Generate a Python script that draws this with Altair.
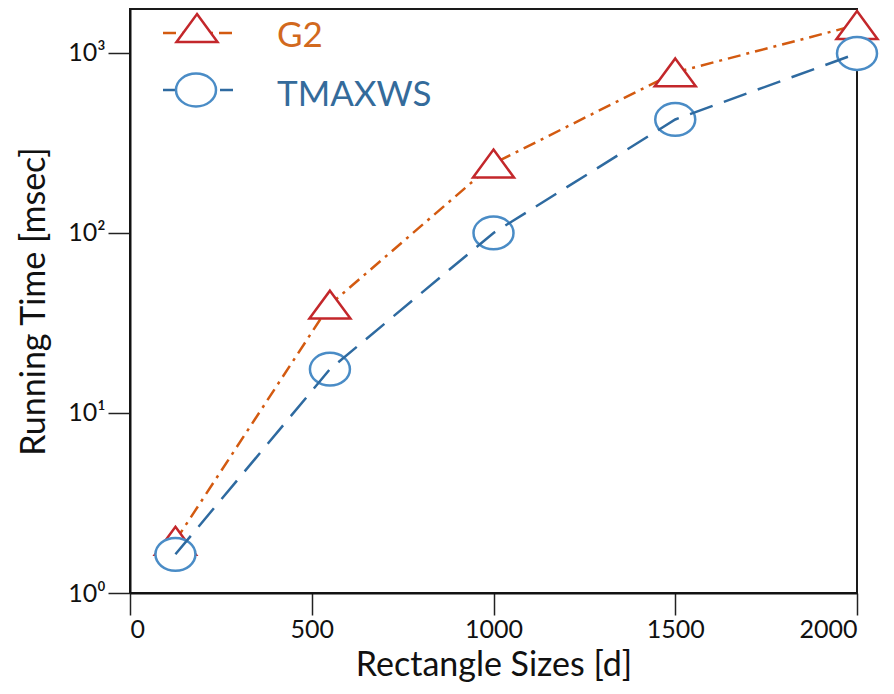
import altair as alt
import pandas as pd

# ---- data ----
sizes = [125, 550, 1000, 1500, 2000]
g2_ms = [1.95, 40, 243, 780, 1430]
tmaxws_ms = [1.64, 17.5, 100, 427, 993]
series_names = ["G2", "TMAXWS"]
x_ticks = [0, 500, 1000, 1500, 2000]
y_ticks = [1, 10, 100, 1000]

df = pd.DataFrame({
    "size": sizes * 2,
    "ms": g2_ms + tmaxws_ms,
    "series": [series_names[0]] * len(sizes) + [series_names[1]] * len(sizes),
})

FONT = "Lato"
G2_LINE = "#d35a10"
G2_MARK = "#c3272b"
G2_TEXT = "#d2691e"
TM_LINE = "#2e6aa0"
TM_MARK = "#4a8cc6"
TM_TEXT = "#346b9b"

TRI = "M0,-0.68L1,0.68L-1,0.68Z"
ELL = "M-1,0A1,0.82 0 1,0 1,0A1,0.82 0 1,0 -1,0Z"

x_enc = alt.X("size:Q", scale=alt.Scale(domain=[0, 2000], nice=False),
              axis=alt.Axis(values=x_ticks, title="Rectangle Sizes [d]", format="d"))
y_enc = alt.Y("ms:Q", scale=alt.Scale(type="log", domain=[1, 1754], nice=False),
              axis=alt.Axis(values=y_ticks, title="Running Time [msec]",
                            labelExpr="datum.value==1?'10⁰':datum.value==10?'10¹':datum.value==100?'10²':'10³'"))

base = alt.Chart(df).encode(x=x_enc, y=y_enc)

g2 = base.transform_filter(alt.datum.series == series_names[0])
tm = base.transform_filter(alt.datum.series == series_names[1])

g2_line = g2.mark_line(color=G2_LINE, strokeWidth=2.5, strokeDash=[13, 6, 3, 6])
g2_pts = g2.mark_point(shape=TRI, size=1681, filled=True, fill="white",
                       stroke=G2_MARK, strokeWidth=2.5, opacity=1)
tm_pts = tm.mark_point(shape=ELL, size=1600, filled=True, fill="white",
                       stroke=TM_MARK, strokeWidth=2.5, opacity=1)
tm_line = tm.mark_line(color=TM_LINE, strokeWidth=2.5, strokeDash=[24, 12])

# ---- manual legend (top-left inside the plot) ----
leg = alt.Chart(pd.DataFrame({"series": series_names}))
l_g2 = leg.transform_filter(alt.datum.series == series_names[0])
l_tm = leg.transform_filter(alt.datum.series == series_names[1])

leg_g2_line = l_g2.mark_rule(color=G2_LINE, strokeWidth=2.5, strokeDash=[13, 6, 3, 6]).encode(
    x=alt.value(33), x2=alt.value(104), y=alt.value(24))
leg_g2_pt = l_g2.mark_point(shape=TRI, size=1681, filled=True, fill="white",
                            stroke=G2_MARK, strokeWidth=2.5, opacity=1).encode(
    x=alt.value(67), y=alt.value(19))
leg_g2_txt = l_g2.mark_text(align="left", baseline="alphabetic", font=FONT, fontSize=35,
                            color=G2_TEXT).encode(
    x=alt.value(147), y=alt.value(38), text="series:N")

leg_tm_line = l_tm.mark_rule(color=TM_LINE, strokeWidth=2.5, strokeDash=[13, 6]).encode(
    x=alt.value(33), x2=alt.value(104), y=alt.value(81))
leg_tm_pt = l_tm.mark_point(shape=ELL, size=1600, filled=True, fill="white",
                            stroke=TM_MARK, strokeWidth=2.5, opacity=1).encode(
    x=alt.value(66), y=alt.value(81))
leg_tm_txt = l_tm.mark_text(align="left", baseline="alphabetic", font=FONT, fontSize=35,
                            color=TM_TEXT).encode(
    x=alt.value(147), y=alt.value(97), text="series:N")

chart = alt.layer(
    g2_line, g2_pts, tm_pts, tm_line,
    leg_g2_line, leg_g2_pt, leg_g2_txt, leg_tm_line, leg_tm_pt, leg_tm_txt,
).properties(
    width=727, height=584,
    autosize=alt.AutoSizeParams(type="none"),
    padding={"left": 122, "top": 1, "right": 29, "bottom": 93},
).configure_view(
    stroke="#1a1a1a", strokeWidth=2,
).configure_axis(
    grid=False,
    domainColor="#111111", domainWidth=2,
    tickColor="#222222", tickWidth=1.5, tickSize=22,
    labelFont=FONT, labelFontSize=25, labelColor="#111111",
    titleFont=FONT, titleFontSize=34, titleFontWeight="normal", titleColor="#111111",
).configure_axisX(
    labelPadding=2, titlePadding=6,
).configure_axisY(
    labelPadding=3, titlePadding=16,
)

chart.save("out.html", embed_options={"renderer": "svg", "actions": False})
